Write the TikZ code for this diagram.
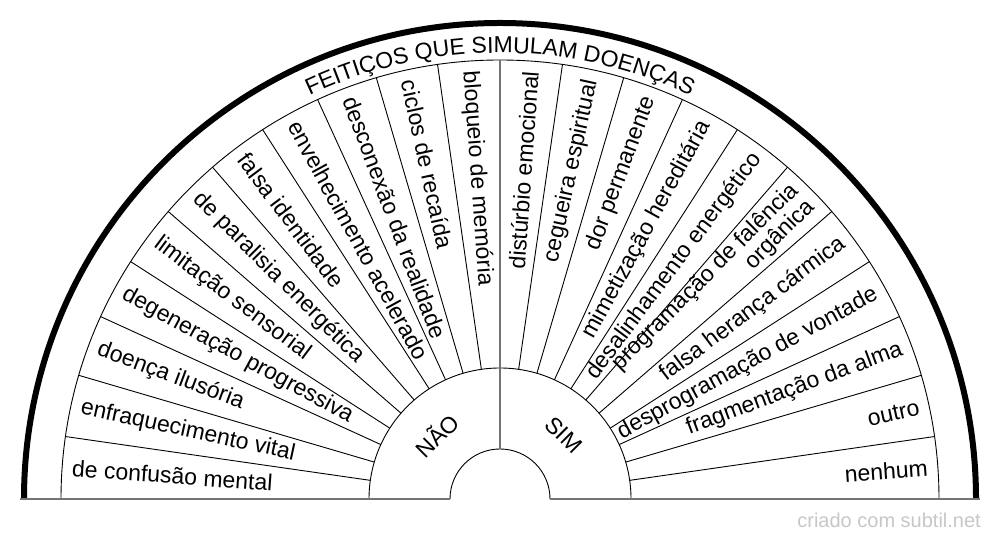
\documentclass[tikz,border=0pt]{standalone}
\usepackage{fontspec}
\setmainfont{Liberation Sans}
\usetikzlibrary{decorations.text,calc}
\begin{document}
\begin{tikzpicture}[x=1pt,y=1pt,
  thinline/.style={line width=0.9pt, black},
  grayline/.style={line width=1.6pt, black!55},
  rimline/.style={line width=6pt, black},
  lbl/.style={inner sep=0pt, font=\fontsize{23}{21}\selectfont},
  yesno/.style={inner sep=0pt, font=\fontsize{23}{25}\selectfont},
  wm/.style={inner sep=0pt, font=\fontsize{20}{22}\selectfont, text=black!22}]
\useasboundingbox (0,0) rectangle (1000,540);
\coordinate (C) at (500,41);
% rim
\draw[rimline] ($(C)+(180:476)$) arc (180:0:476);
% arcs
\draw[thinline] ($(C)+(180:439)$) arc (180:0:439);
\draw[thinline] ($(C)+(180:131)$) arc (180:0:131);
\draw[thinline] ($(C)+(180:50)$) arc (180:0:50);
% radial lines
\foreach \k in {1,...,10,12,13,...,21}{
  \pgfmathsetmacro\ang{\k*180/22}
  \draw[thinline] ($(C)+(\ang:131)$) -- ($(C)+(\ang:439)$);
}
\draw[grayline] ($(C)+(90:50)$) -- ($(C)+(90:439)$);
% baseline
\coordinate (bl1) at (20,41);
\coordinate (bl2) at (450,41);
\coordinate (br1) at (550,41);
\coordinate (br2) at (980,41);
\draw[grayline] (bl1) -- (bl2);
\draw[grayline] (br1) -- (br2);
% title
\path[decorate, decoration={text along path, text align=center,
  text={|\fontsize{23}{23}\selectfont|FEITIÇOS QUE SIMULAM DOENÇAS}}]
  ($(C)+(116:446)$) arc (116:64:446);
% right labels
\foreach \i/\t in {0/nenhum, 1/outro, 2/fragmentação da alma, 3/desprogramação de vontade,
  4/falsa herança cármica, 5/{programação de falência\\orgânica}, 6/desalinhamento energético,
  7/mimetização hereditária, 8/dor permanente, 9/cegueira espiritual, 10/distúrbio emocional}{
  \pgfmathsetmacro\ang{(\i+0.5)*180/22}
  \node[lbl, anchor=east, rotate=\ang, align=right] (l\i) at ($(C)+(\ang:429)$) {\t};
}
% left labels
\foreach \i/\t in {11/bloqueio de memória, 12/ciclos de recaída, 13/desconexão da realidade,
  14/envelhecimento acelerado, 15/falsa identidade, 16/de paralisia energética,
  17/limitação sensorial, 18/degeneração progressiva, 19/doença ilusória,
  20/enfraquecimento vital, 21/de confusão mental}{
  \pgfmathsetmacro\ang{(\i+0.5)*180/22}
  \pgfmathsetmacro\rot{\ang-180}
  \node[lbl, anchor=west, rotate=\rot, align=left] (l\i) at ($(C)+(\ang:429)$) {\t};
}
\node[yesno, rotate=45] (nao) at ($(C)+(135:90.5)$) {NÃO};
\node[yesno, rotate=-45] (sim) at ($(C)+(45:90.5)$) {SIM};
\node[wm, anchor=east] (wmark) at (981,20) {criado com subtil.net};
\end{tikzpicture}
\end{document}
